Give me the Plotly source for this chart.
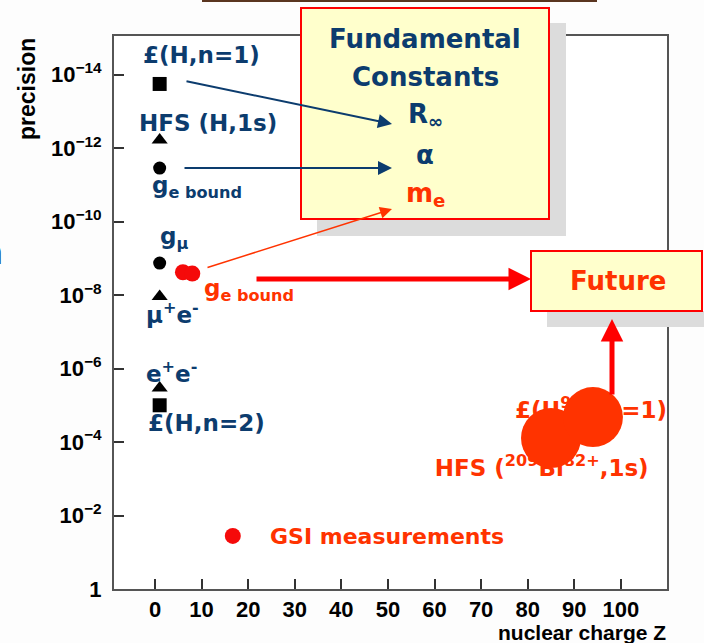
import plotly.graph_objects as go

# ---- data -------------------------------------------------------------
# black reference points (light systems, Z ~ 1)
sq_z = [1, 1]
sq_prec = [1.8e-14, 1.0e-5]            # 1S-2S H, Lamb shift H n=2
tri_z = [1, 1, 1]
tri_prec = [6.0e-13, 1.1e-8, 3.4e-6]   # HFS H 1s, muonium, positronium
circ_z = [1, 1]
circ_prec = [3.5e-12, 1.35e-9]         # g_e bound, g_mu

# GSI measurements
ge_z = [6, 8]
ge_prec = [2.4e-9, 2.6e-9]
hi_z = [85, 94]
hi_prec = [7.8e-5, 2.1e-5]
gsi_legend_z = [16.7]
gsi_legend_prec = [3.6e-2]

x_ticks = [0, 10, 20, 30, 40, 50, 60, 70, 80, 90, 100]
y_ticks = [1e-14, 1e-12, 1e-10, 1e-8, 1e-6, 1e-4, 1e-2, 1]
y_tick_text = ["10<sup>\u221214</sup>", "10<sup>\u221212</sup>", "10<sup>\u221210</sup>",
               "10<sup>\u22128</sup>", "10<sup>\u22126</sup>", "10<sup>\u22124</sup>",
               "10<sup>\u22122</sup>", "1"]

# ---- styling ----------------------------------------------------------
W, H = 704, 643
L, R, T, B = 114, 667, 36, 589
BLUE = "#0c3c6e"
ORANGE = "#ff3300"
RED = "#f50a0a"
LABEL_FONT = "Comic Sans MS, DejaVu Sans, sans-serif"


def px(x):
    return (x - L) / (R - L)


def py(y):
    return (B - y) / (B - T)


fig = go.Figure()

# labels that sit underneath the heavy-ion markers
fig.add_trace(go.Scatter(
    x=[83, 93.6], y=[5.8e-4, 1.5e-5], mode="text",
    text=["HFS (<sup>209</sup>Bi<sup>82+</sup>,1s)", "\u00a3(U<sup>91+</sup>,n=1)"],
    textfont=dict(family=LABEL_FONT, size=23, color=ORANGE, weight="bold"),
    cliponaxis=False, hoverinfo="skip", showlegend=False))

fig.add_trace(go.Scatter(x=sq_z, y=sq_prec, mode="markers",
                         marker=dict(symbol="square", size=14, color="black"),
                         showlegend=False))
fig.add_trace(go.Scatter(x=tri_z, y=tri_prec, mode="markers",
                         marker=dict(symbol="triangle-up", size=14, color="black"),
                         showlegend=False))
fig.add_trace(go.Scatter(x=circ_z, y=circ_prec, mode="markers",
                         marker=dict(symbol="circle", size=13, color="black"),
                         showlegend=False))
fig.add_trace(go.Scatter(x=ge_z, y=ge_prec, mode="markers",
                         marker=dict(symbol="circle", size=16, color=RED),
                         showlegend=False))
fig.add_trace(go.Scatter(x=gsi_legend_z, y=gsi_legend_prec, mode="markers",
                         marker=dict(symbol="circle", size=16, color=RED),
                         showlegend=False))
fig.add_trace(go.Scatter(x=hi_z, y=hi_prec, mode="markers",
                         marker=dict(symbol="circle", size=60, color=ORANGE),
                         cliponaxis=False, showlegend=False))

shapes = [
    # rule across the top of the page
    dict(type="line", xref="paper", yref="paper", x0=px(202), x1=px(597),
         y0=py(1), y1=py(1), line=dict(color="#5a3520", width=2)),
    # "Fundamental Constants" box with its drop shadow
    dict(type="rect", xref="paper", yref="paper", x0=px(317), x1=px(566),
         y0=py(236), y1=py(23), fillcolor="#dcdcdc", line=dict(width=0), layer="above"),
    dict(type="rect", xref="paper", yref="paper", x0=px(301), x1=px(549),
         y0=py(219), y1=py(8), fillcolor="#ffffcc", line=dict(color="#ff0000", width=2),
         layer="above"),
    # "Future" box with its drop shadow
    dict(type="rect", xref="paper", yref="paper", x0=px(547), x1=px(704),
         y0=py(327), y1=py(311), fillcolor="#dcdcdc", line=dict(width=0), layer="above"),
    dict(type="rect", xref="paper", yref="paper", x0=px(531), x1=px(702),
         y0=py(311), y1=py(251), fillcolor="#ffffcc", line=dict(color="#ff0000", width=2),
         layer="above"),
]

annotations = []


def label(x, y, text, color=BLUE, size=23, xanchor="center"):
    annotations.append(dict(x=px(x), y=py(y), xref="paper", yref="paper", text=text,
                            showarrow=False, xanchor=xanchor, yanchor="middle",
                            font=dict(family=LABEL_FONT, size=size, color=color,
                                      weight="bold")))


def arrow(x0, y0, x1, y1, color, width, head=2, size=1.0):
    annotations.append(dict(x=px(x1), y=py(y1), xref="paper", yref="paper",
                            ax=x0 - x1, ay=y0 - y1, axref="pixel", ayref="pixel",
                            text="", showarrow=True, arrowhead=head, arrowsize=size,
                            arrowwidth=width, arrowcolor=color, standoff=0))


# point labels
label(201, 55, "\u00a3(H,n=1)")
label(208, 123, "HFS (H,1s)")
label(150, 187, "g<sub>e bound</sub>", xanchor="left")
label(158, 238, "g<sub>\u03bc</sub>", xanchor="left")
label(172, 313, "\u03bc<sup>+</sup>e<sup>-</sup>")
label(171, 372, "e<sup>+</sup>e<sup>-</sup>")
label(206, 423, "\u00a3(H,n=2)")
label(202, 290, "g<sub>e bound</sub>", color=ORANGE, xanchor="left")
label(268, 536, "GSI measurements", color=ORANGE, size=22, xanchor="left")

# arrows into the boxes
arrow(185, 81, 392, 124, BLUE, 2, head=2, size=1.4)
arrow(183, 168, 392, 168, BLUE, 2, head=2, size=1.4)
arrow(206, 268, 392, 209, ORANGE, 1.5, head=2, size=1.6)
arrow(255, 279, 531, 279, "#ff0000", 5, head=2, size=0.9)
arrow(612, 396, 612, 319, "#ff0000", 5, head=2, size=0.9)

# box contents
label(425, 39, "Fundamental", size=26)
label(425, 77, "Constants", size=26)
label(425, 116, "R<sub>\u221e</sub>", size=26)
label(425, 155, "\u03b1", size=26)
label(425, 194, "m<sub>e</sub>", color=ORANGE, size=26)
label(618, 281, "Future", color=ORANGE, size=26)

# fragment of page text at the left edge
annotations.append(dict(x=px(5), y=py(252), xref="paper", yref="paper", text="n",
                        showarrow=False, xanchor="right", yanchor="middle",
                        font=dict(family=LABEL_FONT, size=34, color=BLUE, weight="bold")))

# axis titles
annotations.append(dict(x=px(27), y=py(89), xref="paper", yref="paper", text="precision",
                        textangle=-90, showarrow=False, xanchor="center", yanchor="middle",
                        font=dict(family="Liberation Sans", size=23, color="black",
                                  weight="bold")))
annotations.append(dict(x=px(668), y=py(632), xref="paper", yref="paper",
                        text="nuclear charge Z", showarrow=False, xanchor="right",
                        yanchor="middle",
                        font=dict(family="Liberation Sans", size=21, color="black",
                                  weight="bold")))

tick_font = dict(family="Liberation Sans", size=22, color="black", weight="bold")

fig.update_layout(
    width=W, height=H,
    margin=dict(l=L, r=W - R, t=T, b=H - B, pad=0),
    paper_bgcolor="#fdfdfd", plot_bgcolor="white",
    shapes=shapes, annotations=annotations,
    xaxis=dict(range=[-8.8, 109.9], tickvals=x_ticks, ticks="inside", ticklen=10,
               tickwidth=2, tickcolor="#333", showgrid=False, zeroline=False,
               showline=True, linecolor="#555", linewidth=2, mirror=True,
               tickfont=tick_font),
    yaxis=dict(type="log", range=[0, -15.05], tickvals=y_ticks, ticktext=y_tick_text,
               ticks="inside", ticklen=10, tickwidth=2, tickcolor="#333",
               showgrid=False, zeroline=False, showline=True, linecolor="#555",
               linewidth=2, mirror=True, tickfont=tick_font, ticklabelstandoff=6),
)

fig.write_html("out.html")
